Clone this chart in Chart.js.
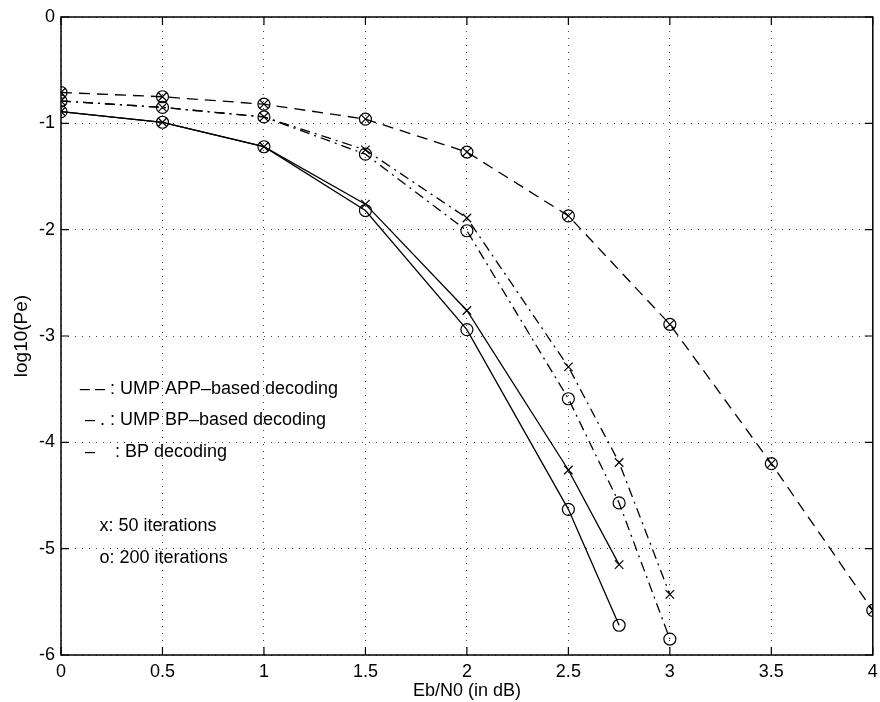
<!DOCTYPE html>
<html>
<head>
<meta charset="utf-8">
<script src="https://cdn.jsdelivr.net/npm/chart.js@4"></script>
<style>
  html, body { margin: 0; padding: 0; background: #fff; }
  #wrap { width: 880px; height: 702px; }
</style>
</head>
<body>
<div id="wrap"><canvas id="chart"></canvas></div>
<script>
// Eb/N0 values (dB)
var snr_app = [0, 0.5, 1, 1.5, 2, 2.5, 3, 3.5, 4]
var snr_bp = [0, 0.5, 1, 1.5, 2, 2.5, 2.75, 3]
var snr_plain = [0, 0.5, 1, 1.5, 2, 2.5, 2.75]

// log10(Pe) values
var app_50 = [-0.71, -0.75, -0.82, -0.96, -1.27, -1.87, -2.89, -4.2, -5.58]
var app_200 = [-0.71, -0.75, -0.82, -0.96, -1.27, -1.87, -2.89, -4.2, -5.58]
var umpbp_50 = [-0.79, -0.85, -0.94, -1.25, -1.89, -3.29, -4.19, -5.43]
var umpbp_200 = [-0.79, -0.85, -0.94, -1.29, -2.01, -3.59, -4.57, -5.85]
var bp_50 = [-0.89, -0.99, -1.22, -1.76, -2.76, -4.26, -5.15]
var bp_200 = [-0.89, -0.99, -1.22, -1.82, -2.94, -4.63, -5.72]

var x_ticks = [0, 0.5, 1, 1.5, 2, 2.5, 3, 3.5, 4]
var legend_lines = [
    '\u2013 \u2013 : UMP APP\u2013based decoding',
    ' \u2013 . : UMP BP\u2013based decoding',
    ' \u2013    : BP decoding'
]
var iter_lines = ['x: 50 iterations', 'o: 200 iterations']

function pts(xs, ys) {
    return xs.map((x, i) => ({ x: x, y: ys[i] }))
}

function series(xs, ys, dash, marker, line) {
    return {
        data: pts(xs, ys),
        showLine: line,
        borderColor: '#000',
        backgroundColor: 'rgba(0,0,0,0)',
        borderWidth: 1.3,
        borderDash: dash,
        pointStyle: marker,
        pointRadius: 6,
        pointBorderColor: '#000',
        pointBorderWidth: 1.2,
        pointBackgroundColor: 'rgba(0,0,0,0)'
    }
}

var font_family = '"Liberation Sans", Arial, Helvetica, sans-serif'

var box_plugin = {
    id: 'box',
    afterDraw(chart) {
        const c = chart.ctx
        const a = chart.chartArea
        c.save()
        c.strokeStyle = '#000'
        c.lineWidth = 1.5
        c.strokeRect(a.left, a.top, a.right - a.left, a.bottom - a.top)
        // inward ticks
        const xs = chart.scales.x
        const ys = chart.scales.y
        c.lineWidth = 1.2
        x_ticks.forEach((v) => {
            const px = xs.getPixelForValue(v)
            c.beginPath()
            c.moveTo(px, a.bottom); c.lineTo(px, a.bottom - 8)
            c.moveTo(px, a.top); c.lineTo(px, a.top + 8)
            c.stroke()
        })
        for (let v = -6; v <= 0; v++) {
            const py = ys.getPixelForValue(v)
            c.beginPath()
            c.moveTo(a.left, py); c.lineTo(a.left + 8, py)
            c.moveTo(a.right, py); c.lineTo(a.right - 8, py)
            c.stroke()
        }
        // text annotations
        c.fillStyle = '#000'
        c.font = '18px ' + font_family
        c.textBaseline = 'middle'
        const lx = xs.getPixelForValue(0.093)
        const ly = [-3.5, -3.79, -4.09]
        legend_lines.forEach((t, i) => c.fillText(t, lx, ys.getPixelForValue(ly[i])))
        const ix = xs.getPixelForValue(0.19)
        const iy = [-4.79, -5.09]
        iter_lines.forEach((t, i) => c.fillText(t, ix, ys.getPixelForValue(iy[i])))
        c.restore()
    }
}

var dashed = [11, 7]
var dashdot = [10, 5, 2, 5]

var ctx0 = document.getElementById('chart')
var chart = new Chart(ctx0, {
    type: 'scatter',
    data: {
        datasets: [
            series(snr_app, app_50, dashed, 'crossRot', true),
            series(snr_app, app_200, dashed, 'circle', false),
            series(snr_bp, umpbp_50, dashdot, 'crossRot', true),
            series(snr_bp, umpbp_200, dashdot, 'circle', true),
            series(snr_plain, bp_50, [], 'crossRot', true),
            series(snr_plain, bp_200, [], 'circle', true)
        ]
    },
    options: {
        responsive: true,
        maintainAspectRatio: false,
        animation: false,
        layout: { padding: { left: 0, right: 0, top: 17, bottom: 0 } },
        plugins: {
            legend: { display: false },
            tooltip: { enabled: false }
        },
        scales: {
            x: {
                type: 'linear',
                min: 0,
                max: 4,
                afterBuildTicks: (s) => { s.ticks = x_ticks.map((v) => ({ value: v })) },
                afterFit: (s) => {
                    s.height = 47
                    s.paddingRight = 6
                },
                ticks: {
                    color: '#000',
                    font: { family: font_family, size: 18 },
                    padding: 6,
                    maxRotation: 0,
                    autoSkip: false,
                    callback: (v) => String(v)
                },
                grid: {
                    color: '#444',
                    lineWidth: 1,
                    drawTicks: false
                },
                border: { display: false, dash: [1, 6] },
                title: {
                    display: true,
                    text: 'Eb/N0 (in dB)',
                    color: '#000',
                    font: { family: font_family, size: 18 },
                    padding: { top: 0, bottom: 0 }
                }
            },
            y: {
                type: 'linear',
                min: -6,
                max: 0,
                afterFit: (s) => { s.width = 61 },
                ticks: {
                    stepSize: 1,
                    color: '#000',
                    font: { family: font_family, size: 18 },
                    padding: 6
                },
                grid: {
                    color: '#444',
                    lineWidth: 1,
                    drawTicks: false
                },
                border: { display: false, dash: [1, 6] },
                title: {
                    display: true,
                    text: 'log10(Pe)',
                    color: '#000',
                    font: { family: font_family, size: 19 },
                    padding: { top: 10, bottom: 0 }
                }
            }
        }
    },
    plugins: [box_plugin]
})
</script>
</body>
</html>
